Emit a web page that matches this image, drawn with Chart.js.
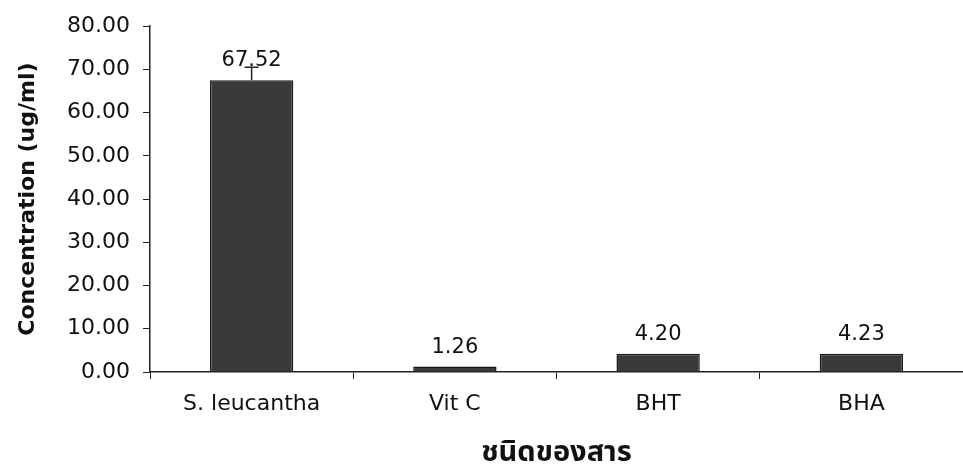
<!DOCTYPE html>
<html>
<head>
<meta charset="utf-8">
<script src="https://cdn.jsdelivr.net/npm/chart.js@4/dist/chart.umd.min.js"></script>
<style>
   html, body { margin: 0; padding: 0; background: #fff; }
   #wrap { width: 963px; height: 464px; }
</style>
</head>
<body>
<div id="wrap"><canvas id="concChart" width="963" height="464"></canvas></div>
<script>
const categories = ['S. leucantha', 'Vit C', 'BHT', 'BHA'];
const concValues = [67.52, 1.26, 4.20, 4.23];
const errValues = [3.0, 0, 0, 0];
const yTicks = [0, 10, 20, 30, 40, 50, 60, 70, 80];

const FONT = '"DejaVu Sans", "Liberation Sans", Arial, sans-serif';

// error bar + value labels, placed through the y scale
const barExtras = {
   id: 'barExtras',
   afterDatasetsDraw(chart) {
      const ctx = chart.ctx;
      const yScale = chart.scales.y;
      const meta = chart.getDatasetMeta(0);
      ctx.save();
      ctx.strokeStyle = '#222';
      ctx.lineWidth = 1.5;
      meta.data.forEach((bar, i) => {
         const err = errValues[i];
         if (err > 0) {
            const yTop = yScale.getPixelForValue(concValues[i] + err);
            ctx.beginPath();
            ctx.moveTo(bar.x, bar.y);
            ctx.lineTo(bar.x, yTop);
            ctx.moveTo(bar.x - 7, yTop);
            ctx.lineTo(bar.x + 7, yTop);
            ctx.stroke();
         }
         ctx.fillStyle = '#111';
         ctx.font = '21px ' + FONT;
         ctx.textAlign = 'center';
         ctx.textBaseline = 'alphabetic';
         ctx.fillText(concValues[i].toFixed(2), bar.x, bar.y - 14);
      });
      ctx.restore();
   }
};

const ctx = document.getElementById('concChart').getContext('2d');
const chart = new Chart(ctx, {
   type: 'bar',
   data: {
      labels: categories,
      datasets: [{
         data: concValues,
         backgroundColor: '#3a3a3a',
         borderColor: '#1a1a1a',
         borderWidth: 1.5,
         barPercentage: 0.41,
         categoryPercentage: 1.0
      }]
   },
   options: {
      responsive: false,
      animation: false,
      layout: { padding: { left: 14, right: -11, top: 20, bottom: 0 } },
      plugins: {
         legend: { display: false },
         tooltip: { enabled: false }
      },
      scales: {
         x: {
            offset: true,
            grid: {
               display: true,
               offset: true,
               drawOnChartArea: false,
               tickLength: 7,
               color: '#222'
            },
            border: { color: '#222', width: 1.5 },
            ticks: {
               color: '#111',
               font: { family: FONT, size: 22 },
               padding: 12
            },
            title: {
               display: true,
               text: 'ชนิดของสาร',
               color: '#111',
               font: { family: '"Noto Sans Thai", "Noto Sans", sans-serif', size: 29, weight: 'bold' },
               padding: { top: 0, bottom: -9 }
            },
            afterFit: s => { s.height = 92; }
         },
         y: {
            min: 0,
            max: 80,
            afterBuildTicks: s => { s.ticks = yTicks.map(v => ({ value: v })); },
            grid: {
               display: true,
               drawOnChartArea: false,
               tickLength: 7,
               color: '#222'
            },
            border: { color: '#222', width: 1.5 },
            ticks: {
               color: '#111',
               font: { family: FONT, size: 22 },
               padding: 13,
               callback: v => Number(v).toFixed(2)
            },
            title: {
               display: true,
               text: 'Concentration (ug/ml)',
               color: '#111',
               font: { family: FONT, size: 22, weight: 'bold' },
               padding: { top: 1, bottom: 0 }
            },
            afterFit: s => { s.width = 136; }
         }
      }
   },
   plugins: [barExtras]
});
</script>
</body>
</html>
